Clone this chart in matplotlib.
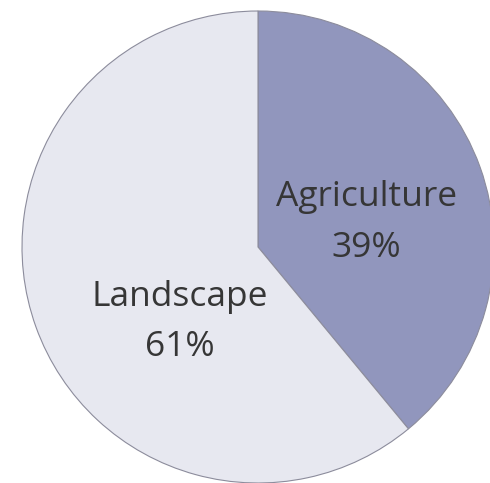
import matplotlib.pyplot as plt

# data
labels = ['Agriculture', 'Landscape']
shares = [39, 61]
colors = ['#9196BD', '#E7E8F0']

# label placement (data units, pie radius = 1)
label_pos = [(0.46, 0.105), (-0.33, -0.318)]

fig = plt.figure(figsize=(4.9, 4.83), dpi=100)
ax = fig.add_axes([0, 0, 1, 1])

ax.pie(shares, colors=colors, startangle=90, counterclock=False,
       radius=1.0, center=(0, 0), frame=True,
       wedgeprops=dict(edgecolor='#8c8c9c', linewidth=0.8))

for name, val, (x, y) in zip(labels, shares, label_pos):
    ax.text(x, y, '%s\n%d%%' % (name, val), ha='center', va='center',
            fontsize=25.5, color='#363636', family='Open Sans',
            linespacing=1.64)

# circle centre at pixel (258, 247), radius 236 px
ax.set_xlim(-258 / 236, (490 - 258) / 236)
ax.set_ylim(-(483 - 247) / 236, 247 / 236)
ax.set_aspect('auto')
ax.axis('off')

fig.savefig('out.png', dpi=100, facecolor='white')
